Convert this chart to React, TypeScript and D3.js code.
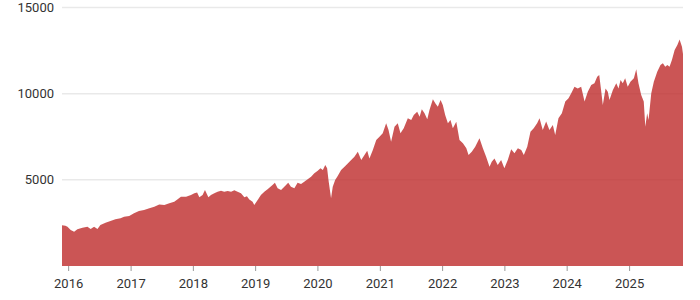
import React from "react";
import * as d3 from "d3";

const dates: string[] = [
  "2015-11-23","2015-12-13","2015-12-25","2016-01-13","2016-02-02","2016-02-21","2016-03-22","2016-04-20","2016-05-09","2016-05-29",
  "2016-06-18","2016-07-05","2016-08-04","2016-09-02","2016-10-01","2016-10-31","2016-11-21","2016-12-21","2017-01-18","2017-02-16",
  "2017-03-18","2017-04-18","2017-05-17","2017-06-15","2017-07-15","2017-08-13","2017-09-11","2017-09-29","2017-10-20","2017-11-19",
  "2017-12-18","2018-01-07","2018-01-23","2018-02-05","2018-02-24","2018-03-10","2018-03-30","2018-04-14","2018-05-04","2018-05-23",
  "2018-06-12","2018-07-01","2018-07-21","2018-08-10","2018-08-29","2018-09-17","2018-10-07","2018-10-27","2018-11-11","2018-11-25",
  "2018-12-14","2018-12-24","2019-01-13","2019-02-01","2019-02-21","2019-03-12","2019-04-10","2019-04-24","2019-05-10","2019-05-30",
  "2019-06-18","2019-07-11","2019-07-27","2019-08-16","2019-09-04","2019-09-24","2019-10-13","2019-11-02","2019-11-22","2019-12-11",
  "2019-12-31","2020-01-16","2020-01-30","2020-02-13","2020-02-24","2020-03-03","2020-03-18","2020-03-28","2020-04-11","2020-04-26",
  "2020-05-16","2020-06-05","2020-06-24","2020-07-14","2020-08-02","2020-08-22","2020-09-11","2020-09-30","2020-10-16","2020-10-29",
  "2020-11-18","2020-12-08","2020-12-27","2021-01-15","2021-02-04","2021-02-18","2021-03-05","2021-03-25","2021-04-13","2021-04-29",
  "2021-05-18","2021-06-11","2021-07-01","2021-07-16","2021-08-05","2021-08-19","2021-09-01","2021-09-17","2021-10-03","2021-10-16",
  "2021-11-05","2021-11-19","2021-12-04","2021-12-20","2022-01-02","2022-01-16","2022-02-01","2022-02-16","2022-03-02","2022-03-22",
  "2022-04-10","2022-04-30","2022-05-20","2022-06-02","2022-06-21","2022-07-11","2022-08-05","2022-08-25","2022-09-13","2022-10-03",
  "2022-10-16","2022-11-01","2022-11-20","2022-12-10","2022-12-29","2023-01-18","2023-02-07","2023-02-26","2023-03-18","2023-04-07",
  "2023-04-22","2023-05-12","2023-05-31","2023-06-19","2023-07-09","2023-07-23","2023-08-11","2023-08-31","2023-09-19","2023-10-09",
  "2023-10-23","2023-11-11","2023-12-01","2023-12-21","2024-01-09","2024-01-25","2024-02-13","2024-03-03","2024-03-23","2024-04-12",
  "2024-05-01","2024-05-21","2024-06-09","2024-06-25","2024-07-07","2024-07-19","2024-07-28","2024-08-13","2024-08-26","2024-09-05",
  "2024-09-25","2024-10-15","2024-10-28","2024-11-09","2024-11-22","2024-12-06","2024-12-21","2025-01-06","2025-01-26","2025-02-09",
  "2025-02-22","2025-03-10","2025-03-25","2025-04-03","2025-04-14","2025-04-22","2025-05-08","2025-05-23","2025-06-12","2025-07-01",
  "2025-07-15","2025-07-29","2025-08-10","2025-08-23","2025-09-06","2025-09-22","2025-10-08","2025-10-21","2025-11-04","2025-11-10",
];

const values: number[] = [
  2370,2340,2280,2090,1990,2130,2220,2280,2145,2280,
  2150,2380,2510,2610,2710,2765,2860,2900,3055,3190,
  3250,3345,3440,3575,3540,3635,3730,3865,4020,4020,
  4120,4215,4270,3985,4120,4410,3985,4120,4215,4310,
  4370,4310,4350,4310,4400,4310,4215,3985,4050,3865,
  3730,3540,3830,4120,4310,4450,4700,4830,4505,4410,
  4600,4830,4600,4505,4830,4755,4890,5030,5180,5375,
  5530,5665,5570,5860,5665,4990,3925,4600,4990,5220,
  5570,5760,5955,6150,6340,6630,6150,6440,6690,6245,
  6730,7310,7500,7700,8280,7890,7210,8080,8280,7700,
  8000,8570,8470,8760,8950,8660,9090,8860,8510,9050,
  9670,9440,9240,9630,9340,8760,8280,8470,7990,8370,
  7310,7120,6830,6440,6630,6920,7410,6830,6340,5760,
  6050,6245,5860,6150,5665,6150,6770,6540,6830,6730,
  6440,6920,7790,7990,8280,8570,7890,8380,7890,8180,
  7600,8570,8860,9540,9730,10020,10400,10300,10400,9540,
  10110,10500,10600,10980,11080,10110,9340,10300,10110,9630,
  10210,10600,10300,10790,10600,10890,10400,10690,10890,11410,
  10600,9920,9540,8080,8860,8470,10020,10690,11270,11660,
  11760,11560,11660,11560,11950,12530,12820,13150,12720,12300,
];

const yTicks: number[] = [5000, 10000, 15000];

const W = 700;
const H = 300;
const margin = { top: 7.5, right: 17, bottom: 34, left: 62 };

export default function App() {
  const parse = d3.timeParse("%Y-%m-%d");
  const data = dates.map((d, i) => ({ date: parse(d) as Date, value: values[i] }));

  const x = d3
    .scaleTime()
    .domain(d3.extent(data, (d) => d.date) as [Date, Date])
    .range([margin.left, W - margin.right]);
  const y = d3.scaleLinear().domain([0, 15000]).range([H - margin.bottom, margin.top]);

  const area = d3
    .area<{ date: Date; value: number }>()
    .x((d) => x(d.date))
    .y0(y(0))
    .y1((d) => y(d.value));

  const xTicks = x.ticks(d3.timeYear.every(1) as any);
  const fmt = d3.timeFormat("%Y");
  const font = "Roboto, 'Liberation Sans', sans-serif";

  return (
    <div style={{ position: "fixed", left: 0, top: 0 }}>
      <svg width={W} height={H} style={{ display: "block", background: "#fff" }}>
        {yTicks.map((t) => (
          <g key={t}>
            <line
              x1={margin.left}
              x2={W - margin.right}
              y1={y(t)}
              y2={y(t)}
              stroke="#e9e9e9"
              strokeWidth={1.5}
            />
            <text
              x={margin.left - 8}
              y={y(t)}
              dy="0.35em"
              textAnchor="end"
              fontFamily={font}
              fontSize={13}
              fill="#333"
            >
              {t}
            </text>
          </g>
        ))}
        <path d={area(data) || ""} fill="#c0302f" fillOpacity={0.82} />
        {xTicks.map((t) => (
          <g key={+t} transform={`translate(${x(t)},0)`}>
            <line y1={H - margin.bottom} y2={H - margin.bottom + 5} stroke="#999" strokeWidth={1} />
            <text
              y={H - margin.bottom + 22}
              textAnchor="middle"
              fontFamily={font}
              fontSize={13}
              fill="#333"
            >
              {fmt(t)}
            </text>
          </g>
        ))}
      </svg>
    </div>
  );
}
